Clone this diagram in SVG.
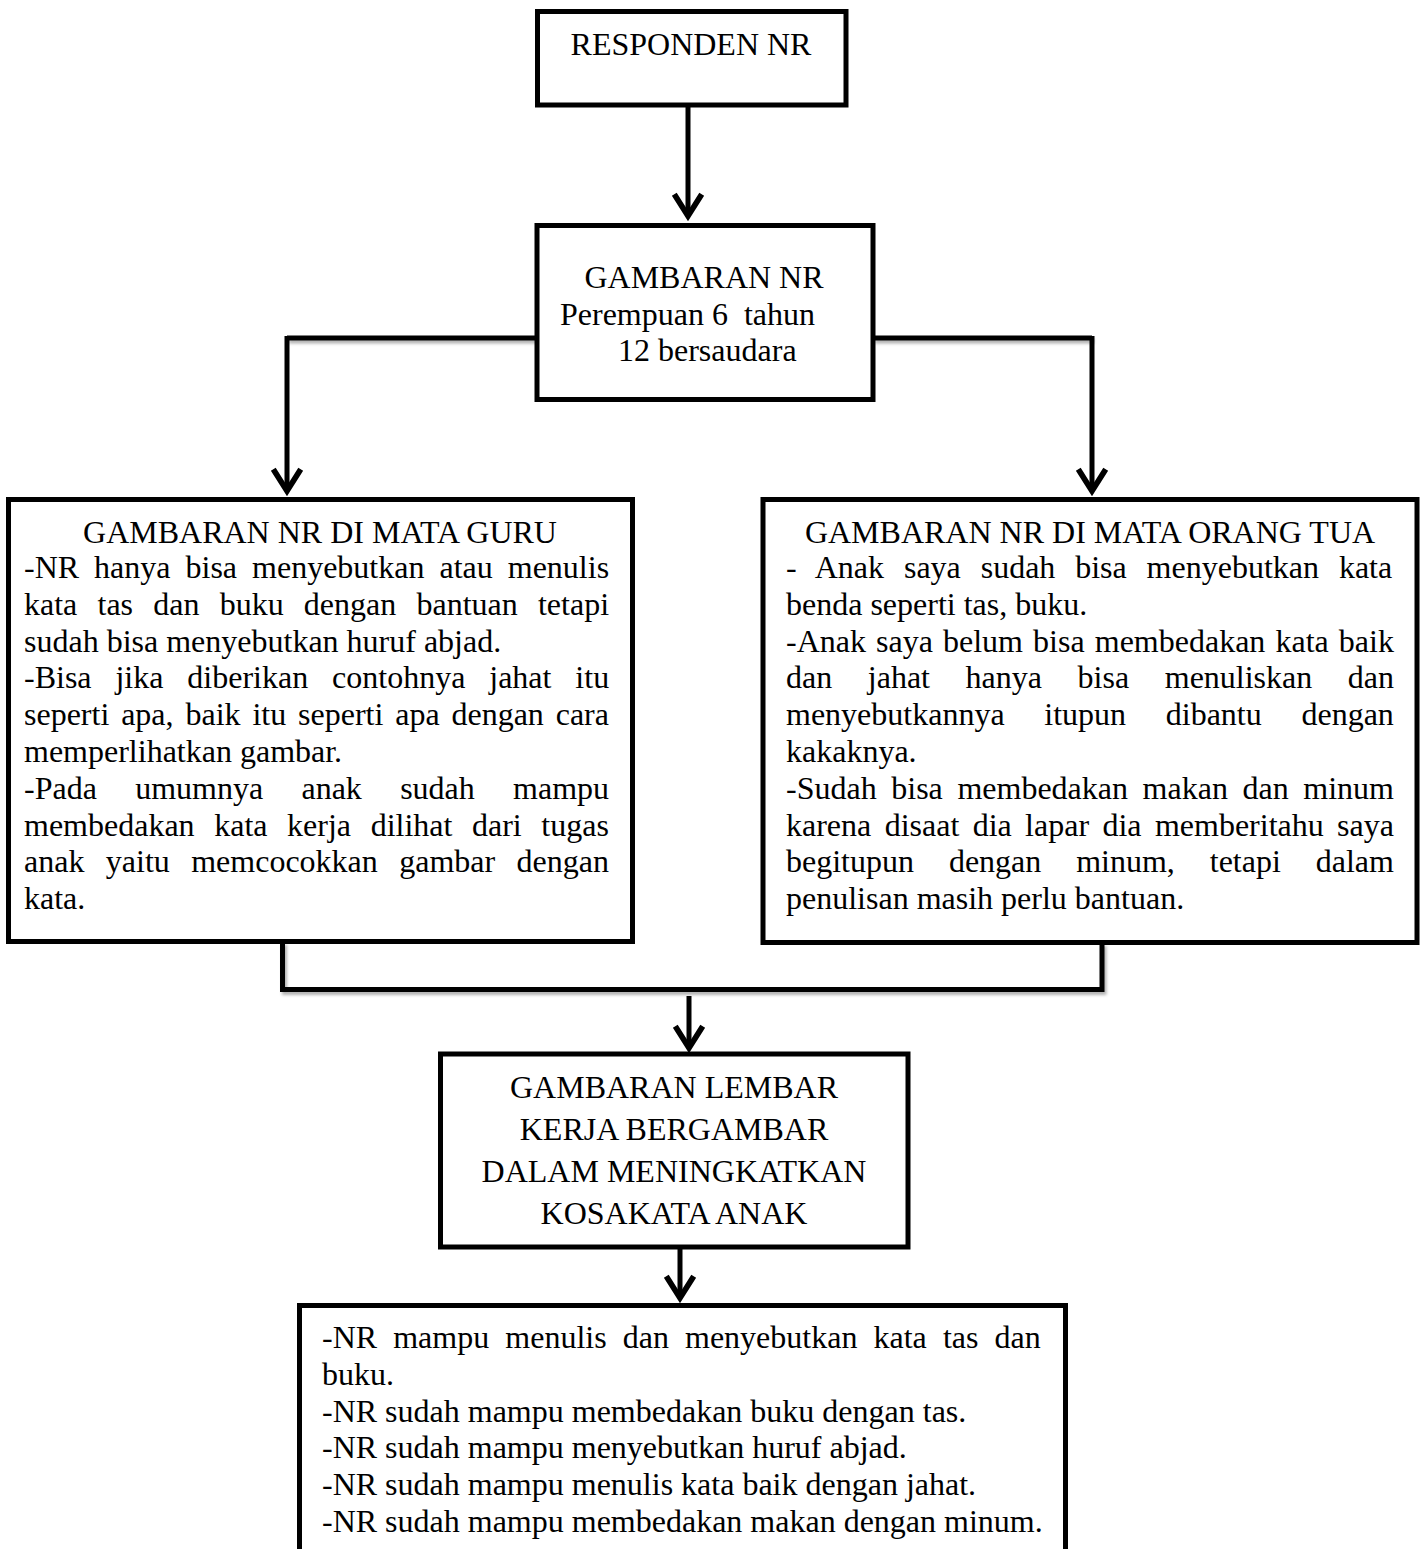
<svg xmlns="http://www.w3.org/2000/svg" width="1424" height="1549" viewBox="0 0 1424 1549">
<style>
.box{fill:#fff;stroke:#000;stroke-width:5}
.t{font-family:"Liberation Serif","Times New Roman",serif;font-size:32px;fill:#000}
.c{text-anchor:middle}
.ln{fill:none;stroke:#000;stroke-width:5}
</style>
<defs>
<marker id="ah" markerUnits="userSpaceOnUse" orient="auto" markerWidth="40" markerHeight="40" refX="0" refY="0" viewBox="-25 -15 35 30" overflow="visible">
<path d="M-19,-12 L0,0 L-19,12" fill="none" stroke="#000" stroke-width="5"/>
</marker>
<filter id="sh" filterUnits="userSpaceOnUse" x="0" y="0" width="1424" height="1549">
<feDropShadow dx="2" dy="3" stdDeviation="1.5" flood-color="#000" flood-opacity="0.3"/>
</filter>
</defs>

<g id="connectors">
<path class="ln" filter="url(#sh)" d="M287,338 H537"/>
<path class="ln" filter="url(#sh)" d="M873,338 H1092"/>
<path class="ln" d="M287,336 V491" marker-end="url(#ah)"/>
<path class="ln" d="M1092,336 V491" marker-end="url(#ah)"/>
<path class="ln" d="M688,105 V216" marker-end="url(#ah)"/>
<path class="ln" filter="url(#sh)" d="M282.5,942 V989.5 H1102 V943"/>
<path class="ln" d="M689,996 V1048" marker-end="url(#ah)"/>
<path class="ln" d="M680,1247 V1298" marker-end="url(#ah)"/>
</g>

<g id="node-responden">
<rect class="box" x="537.5" y="11.5" width="308.5" height="93.5"/>
<text class="t c" x="691" y="55">RESPONDEN NR</text>
</g>

<g id="node-gambaran">
<rect class="box" x="537" y="225.5" width="336" height="174"/>
<text class="t c" x="704" y="288">GAMBARAN NR</text>
<text class="t" x="560" y="325" style="white-space:pre">Perempuan 6  tahun</text>
<text class="t" x="618" y="361">12 bersaudara</text>
</g>

<g id="node-guru">
<rect class="box" x="8.5" y="499.5" width="624" height="442"/>
<text class="t c" x="320" y="543">GAMBARAN NR DI MATA GURU</text>
<text class="t" x="24" y="578" word-spacing="7.0">-NR hanya bisa menyebutkan atau menulis</text>
<text class="t" x="24" y="614.8" word-spacing="12.2">kata tas dan buku dengan bantuan tetapi</text>
<text class="t" x="24" y="651.6">sudah bisa menyebutkan huruf abjad.</text>
<text class="t" x="24" y="688.4" word-spacing="15.9">-Bisa jika diberikan contohnya jahat itu</text>
<text class="t" x="24" y="725.2" word-spacing="3.86">seperti apa, baik itu seperti apa dengan cara</text>
<text class="t" x="24" y="762">memperlihatkan gambar.</text>
<text class="t" x="24" y="798.8" word-spacing="30.3">-Pada umumnya anak sudah mampu</text>
<text class="t" x="24" y="835.6" word-spacing="11.6">membedakan kata kerja dilihat dari tugas</text>
<text class="t" x="24" y="872.4" word-spacing="13.4">anak yaitu memcocokkan gambar dengan</text>
<text class="t" x="24" y="909.2">kata.</text>
</g>

<g id="node-orangtua">
<rect class="box" x="763" y="499.5" width="654" height="443"/>
<text class="t c" x="1090" y="543">GAMBARAN NR DI MATA ORANG TUA</text>
<text class="t" x="786" y="578" word-spacing="11.87">- Anak saya sudah bisa menyebutkan kata</text>
<text class="t" x="786" y="614.8">benda seperti tas, buku.</text>
<text class="t" x="786" y="651.6" word-spacing="2.1">-Anak saya belum bisa membedakan kata baik</text>
<text class="t" x="786" y="688.4" word-spacing="27.6">dan jahat hanya bisa menuliskan dan</text>
<text class="t" x="786" y="725.2" word-spacing="31.7">menyebutkannya itupun dibantu dengan</text>
<text class="t" x="786" y="762">kakaknya.</text>
<text class="t" x="786" y="798.8" word-spacing="6.6">-Sudah bisa membedakan makan dan minum</text>
<text class="t" x="786" y="835.6" word-spacing="5.37">karena disaat dia lapar dia memberitahu saya</text>
<text class="t" x="786" y="872.4" word-spacing="26.9">begitupun dengan minum, tetapi dalam</text>
<text class="t" x="786" y="909.2">penulisan masih perlu bantuan.</text>
</g>

<g id="node-lembar">
<rect class="box" x="440.5" y="1054" width="467.5" height="193"/>
<text class="t c" x="674" y="1097.5">GAMBARAN LEMBAR</text>
<text class="t c" x="674" y="1139.5">KERJA BERGAMBAR</text>
<text class="t c" x="674" y="1181.5">DALAM MENINGKATKAN</text>
<text class="t c" x="674" y="1223.5">KOSAKATA ANAK</text>
</g>

<g id="node-hasil">
<rect class="box" x="299.5" y="1305.5" width="766" height="270"/>
<text class="t" x="322" y="1348" word-spacing="8.1">-NR mampu menulis dan menyebutkan kata tas dan</text>
<text class="t" x="322" y="1384.8">buku.</text>
<text class="t" x="322" y="1421.6">-NR sudah mampu membedakan buku dengan tas.</text>
<text class="t" x="322" y="1458.4">-NR sudah mampu menyebutkan huruf abjad.</text>
<text class="t" x="322" y="1495.2">-NR sudah mampu menulis kata baik dengan jahat.</text>
<text class="t" x="322" y="1532">-NR sudah mampu membedakan makan dengan minum.</text>
</g>
</svg>
